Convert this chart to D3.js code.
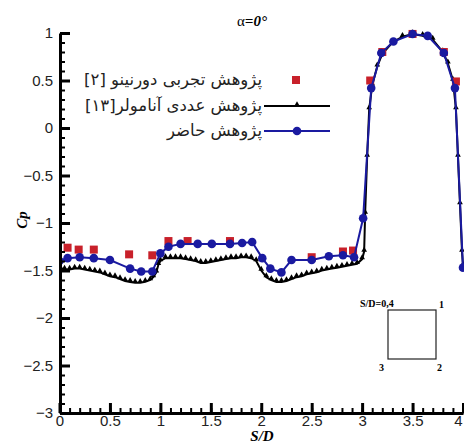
<!DOCTYPE html>
<html>
<head>
<meta charset="utf-8">
<script src="https://cdn.jsdelivr.net/npm/d3@7"></script>
<style>
  body { margin: 0; background: #fff; }
  svg { display: block; }
  .tick text { font-family: "Liberation Sans", Arial, sans-serif; font-size: 15px; fill: #222; }
</style>
</head>
<body>
<div id="viz"></div>
<script>
// experimental (Dorninu) - red squares
const expS  = [0.08, 0.19, 0.34, 0.69, 0.92, 1.08, 1.27, 1.69, 2.50, 2.81, 2.91, 3.08, 3.20, 3.50, 3.81, 3.93];
const expCp = [-1.26, -1.28, -1.28, -1.33, -1.34, -1.19, -1.19, -1.19, -1.36, -1.30, -1.29, 0.50, 0.80, 0.99, 0.80, 0.49];

// numerical (Anamoler) - black line w/ small triangles
const numS  = [0.00, 0.05, 0.10, 0.15, 0.20, 0.25, 0.30, 0.35, 0.40, 0.45, 0.50, 0.55, 0.60, 0.65, 0.70, 0.75, 0.80, 0.85, 0.90, 0.93, 0.96, 0.98,
               1.00, 1.05, 1.10, 1.15, 1.20, 1.25, 1.30, 1.35, 1.40, 1.45, 1.50, 1.55, 1.60, 1.65, 1.70, 1.75, 1.80, 1.85, 1.90, 1.95,
               2.00, 2.05, 2.10, 2.15, 2.20, 2.25, 2.30, 2.35, 2.40, 2.45, 2.50, 2.55, 2.60, 2.65, 2.70, 2.75, 2.80, 2.85, 2.90, 2.95,
               3.00, 3.02, 3.03, 3.05, 3.07, 3.10, 3.15, 3.20, 3.30, 3.40, 3.50, 3.60, 3.70, 3.80, 3.85, 3.90, 3.93, 3.95, 3.97, 3.99, 4.00];
const numCp = [-1.47, -1.49, -1.49, -1.48, -1.48, -1.49, -1.50, -1.51, -1.52, -1.54, -1.56, -1.57, -1.59, -1.61, -1.62, -1.63, -1.63, -1.62, -1.60, -1.57, -1.52, -1.44,
               -1.40, -1.37, -1.37, -1.37, -1.37, -1.38, -1.39, -1.40, -1.42, -1.42, -1.41, -1.40, -1.39, -1.38, -1.37, -1.37, -1.36, -1.36, -1.37, -1.40,
               -1.50, -1.57, -1.60, -1.62, -1.62, -1.61, -1.59, -1.57, -1.56, -1.54, -1.53, -1.52, -1.50, -1.49, -1.48, -1.47, -1.46, -1.45, -1.44, -1.43,
               -1.38, -1.30, -0.90, -0.30, 0.20, 0.45, 0.65, 0.78, 0.90, 0.96, 0.99, 0.97, 0.93, 0.80, 0.68, 0.50, 0.20, -0.30, -0.80, -1.30, -1.45];

// present study - blue line w/ circles
const presS  = [0.00, 0.08, 0.20, 0.34, 0.50, 0.70, 0.81, 0.92, 1.00, 1.08, 1.20, 1.37, 1.51, 1.69, 1.81, 1.91, 2.01, 2.09, 2.20, 2.30, 2.50, 2.67, 2.81, 2.92,
                3.01, 3.09, 3.19, 3.31, 3.50, 3.65, 3.81, 3.92, 4.00];
const presCp = [-1.40, -1.37, -1.36, -1.37, -1.39, -1.48, -1.51, -1.51, -1.32, -1.25, -1.22, -1.22, -1.22, -1.22, -1.21, -1.20, -1.37, -1.48, -1.52, -1.39, -1.39, -1.35, -1.34, -1.36,
                -0.95, 0.42, 0.79, 0.91, 0.99, 0.97, 0.79, 0.42, -1.47];

const xMajor = [0, 0.5, 1, 1.5, 2, 2.5, 3, 3.5, 4];
const yMajor = [-3, -2.5, -2, -1.5, -1, -0.5, 0, 0.5, 1];
const legendLabels = ["پژوهش تجربی دورنینو [۲]", "پژوهش عددی آنامولر[۱۳]", "پژوهش حاضر"];

const W = 464, H = 443;
const COLOR = { exp: "#c8202a", num: "#000", pres: "#1a1aa0" };

const svg = d3.select("#viz").append("svg")
    .attr("width", W)
    .attr("height", H);

const x = d3.scaleLinear().domain([0, 4]).range([59.5, 463]);
const y = d3.scaleLinear().domain([-3, 1]).range([413, 33]);

svg.append("defs").append("clipPath").attr("id", "clip")
  .append("rect").attr("x", 60).attr("y", 0).attr("width", W - 60).attr("height", 414);

const plot = svg.append("g").attr("clip-path", "url(#clip)");

const num = numS.map((s, i) => [s, numCp[i]]);
const pres = presS.map((s, i) => [s, presCp[i]]);
const exp = expS.map((s, i) => [s, expCp[i]]);

const line = d3.line().x(d => x(d[0])).y(d => y(d[1]));

plot.append("path").datum(num)
    .attr("d", line).attr("fill", "none")
    .attr("stroke", COLOR.num).attr("stroke-width", 2);

const tri = d3.symbol().type(d3.symbolTriangle).size(14);
plot.selectAll(".numpt").data(num).enter().append("path")
    .attr("class", "numpt")
    .attr("d", tri)
    .attr("transform", d => `translate(${x(d[0])},${y(d[1]) - 1.5})`)
    .attr("fill", COLOR.num);

plot.selectAll(".exppt").data(exp).enter().append("rect")
    .attr("class", "exppt")
    .attr("x", d => x(d[0]) - 4)
    .attr("y", d => y(d[1]) - 4)
    .attr("width", 8).attr("height", 8)
    .attr("fill", COLOR.exp);

plot.append("path").datum(pres)
    .attr("d", line).attr("fill", "none")
    .attr("stroke", COLOR.pres).attr("stroke-width", 2);

plot.selectAll(".prespt").data(pres).enter().append("circle")
    .attr("class", "prespt")
    .attr("cx", d => x(d[0]))
    .attr("cy", d => y(d[1]))
    .attr("r", 4.3)
    .attr("fill", COLOR.pres);

// axes, ticks pointing inward
const yMinor = d3.range(-3, 1.0001, 0.1).map(v => +v.toFixed(1));
const xMinor = d3.range(0, 4.0001, 0.1).map(v => +v.toFixed(1));

svg.append("g").attr("transform", "translate(60,0)")
    .call(d3.axisLeft(y).tickValues(yMinor).tickSize(-5).tickSizeOuter(0).tickFormat(""))
    .call(g => g.selectAll("line").attr("stroke-width", 2));
svg.append("g").attr("transform", "translate(60,0)")
    .call(d3.axisLeft(y).tickValues(yMajor).tickSize(-10).tickSizeOuter(0).tickPadding(7).tickFormat(d3.format("")))
    .call(g => g.select(".domain").attr("stroke-width", 3))
    .call(g => g.selectAll("line").attr("stroke-width", 3));

svg.append("g").attr("transform", "translate(0,413)")
    .call(d3.axisBottom(x).tickValues(xMinor).tickSize(-5).tickSizeOuter(0).tickFormat(""))
    .call(g => g.selectAll("line").attr("stroke-width", 2));
svg.append("g").attr("transform", "translate(0,413)")
    .call(d3.axisBottom(x).tickValues(xMajor).tickSize(-10).tickSizeOuter(0).tickPadding(2).tickFormat(d3.format("")))
    .call(g => g.select(".domain").attr("stroke-width", 3))
    .call(g => g.selectAll("line").attr("stroke-width", 3))
    // last label sits at the window edge; pull it inside
    .call(g => g.selectAll(".tick text").filter(d => d === 4).attr("text-anchor", "end").attr("dx", -1));

// axis titles
svg.append("text")
    .attr("transform", "translate(27,220) rotate(-90)")
    .attr("text-anchor", "middle")
    .style("font-family", "'Liberation Serif', serif")
    .style("font-style", "italic").style("font-weight", "bold").style("font-size", "15px")
    .text("Cp");

svg.append("text")
    .attr("x", 262).attr("y", 441)
    .attr("text-anchor", "middle")
    .style("font-family", "'Liberation Serif', serif")
    .style("font-style", "italic").style("font-weight", "bold").style("font-size", "15px")
    .text("S/D");

// title
const title = svg.append("text")
    .attr("x", 237).attr("y", 26)
    .style("font-family", "'Liberation Serif', serif").style("font-size", "15px");
title.append("tspan").text("α");
title.append("tspan").style("font-style", "italic").style("font-weight", "bold").text("=0°");

// legend
const legY = [80, 106, 131];
const leg = svg.append("g");
legendLabels.forEach((t, i) => {
  leg.append("text")
      .attr("x", 262).attr("y", legY[i] + 5)
      .attr("direction", "rtl")
      .attr("text-anchor", "start")
      .style("font-family", "'DejaVu Sans', sans-serif").style("font-size", "16.5px")
      .style("fill", "#222")
      .text(t);
});
leg.append("rect").attr("x", 292).attr("y", legY[0] - 4).attr("width", 8).attr("height", 8).attr("fill", COLOR.exp);
leg.append("line").attr("x1", 264).attr("x2", 330).attr("y1", legY[1]).attr("y2", legY[1]).attr("stroke", COLOR.num).attr("stroke-width", 2);
leg.append("path").attr("d", tri).attr("transform", `translate(297,${legY[1] - 1.5})`).attr("fill", COLOR.num);
leg.append("line").attr("x1", 264).attr("x2", 330).attr("y1", legY[2]).attr("y2", legY[2]).attr("stroke", COLOR.pres).attr("stroke-width", 2);
leg.append("circle").attr("cx", 297).attr("cy", legY[2]).attr("r", 4.3).attr("fill", COLOR.pres);

// inset: square with corner numbers
const inset = svg.append("g").style("font-family", "'Liberation Serif', serif").style("font-weight", "bold").style("font-size", "10px");
inset.append("rect").attr("x", 388).attr("y", 310).attr("width", 48).attr("height", 49)
    .attr("fill", "none").attr("stroke", "#222").attr("stroke-width", 1.2);
inset.append("text").attr("x", 360).attr("y", 307).text("S/D=0,4");
inset.append("text").attr("x", 439).attr("y", 308).text("1");
inset.append("text").attr("x", 437).attr("y", 371).text("2");
inset.append("text").attr("x", 379).attr("y", 371).text("3");
</script>
</body>
</html>
